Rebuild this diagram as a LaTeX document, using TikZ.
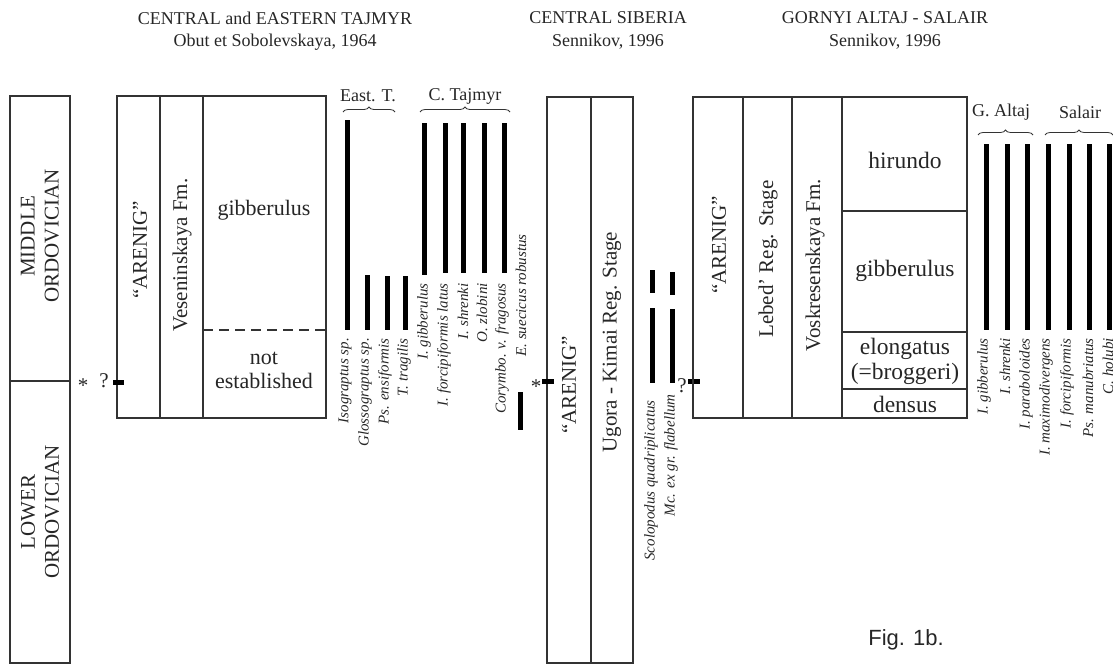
\documentclass[tikz,border=0pt]{standalone}
\usepackage{fontspec}
\setmainfont{Liberation Serif}
\newfontfamily\figfont{Liberation Sans}
\usetikzlibrary{decorations.pathreplacing}
\begin{document}
\begin{tikzpicture}[x=1pt,y=-1pt,
  every node/.style={text=black!85},
  box/.style={draw=black!80,line width=1.3pt},
  dashline/.style={draw=black!80,line width=1.3pt,dash pattern=on 10pt off 6pt},
  bar/.style={draw=black,line width=5pt},
  tickmark/.style={draw=black,line width=5pt},
  vtext/.style={rotate=90,font=\fontsize{21}{24}\selectfont,align=center,inner sep=0pt},
  zone/.style={font=\fontsize{22}{24}\selectfont,align=center,inner sep=0pt},
  bigzone/.style={font=\fontsize{23.5}{25}\selectfont,align=center,inner sep=0pt},
  sp/.style={rotate=90,anchor=east,font=\fontsize{15}{16}\selectfont\itshape,inner sep=0pt},
  title/.style={font=\fontsize{18}{21}\selectfont,inner sep=0pt},
  brlab/.style={font=\fontsize{18}{20}\selectfont,inner sep=0pt},
  symb/.style={font=\fontsize{21}{22}\selectfont,inner sep=0pt},
  br/.style={draw=black!80,decorate,decoration={brace,amplitude=5pt},line width=0.8pt}]
\useasboundingbox (0,0) rectangle (1113,665);

% titles
\node[title] (t1) at (275,18) {CENTRAL and EASTERN TAJMYR};
\node[title] (t1b) at (275,42) {Obut et Sobolevskaya, 1964};
\node[title] (t2) at (608,18) {CENTRAL SIBERIA};
\node[title] (t2b) at (608,42) {Sennikov, 1996};
\node[title] (t3) at (885,18) {GORNYI ALTAJ - SALAIR};
\node[title] (t3b) at (885,42) {Sennikov, 1996};

% left column
\draw[box] (10,96) rectangle (70,663);
\draw[box] (10,381) -- (70,381);
\node[vtext] (mo) at (40,236) {MIDDLE\\ORDOVICIAN};
\node[vtext] (lo) at (40,512) {LOWER\\ORDOVICIAN};

% Tajmyr
\draw[box] (117,96) rectangle (326,418);
\draw[box] (160,96) -- (160,418);
\draw[box] (203,96) -- (203,418);
\draw[dashline] (203,330) -- (326,330);
\node[vtext] (ta) at (140,250) {“ARENIG”};
\node[vtext] (tv) at (182,255) {Veseninskaya Fm.};
\node[zone] (tg) at (264,210) {gibberulus};
\node[zone] (tn) at (264,370) {not\\established};
\node[symb] (ts) at (83,386) {*};
\node[symb] (tq) at (104,381) {?};
\draw[tickmark] (113,382) -- (124,382);

% Tajmyr braces
\draw[br] (343,112) -- (395,112);
\node[brlab] (et) at (368,96) {East. T.};
\draw[br] (420,112) -- (510,112);
\node[brlab] (ct) at (465,96) {C. Tajmyr};

% Tajmyr ranges
\draw[bar] (347,120) -- (347,330);
\draw[bar] (367,275) -- (367,330);
\draw[bar] (387,276) -- (387,330);
\draw[bar] (405,276) -- (405,330);
\draw[bar] (424,123) -- (424,275);
\draw[bar] (445,123) -- (445,273);
\draw[bar] (463,123) -- (463,273);
\draw[bar] (484,123) -- (484,273);
\draw[bar] (504,123) -- (504,273);
\draw[bar] (520,392) -- (520,430);
\node[sp] (s1) at (345,338) {Isograptus sp.};
\node[sp] (s2) at (365,338) {Glossograptus sp.};
\node[sp] (s3) at (385,338) {Ps. ensiformis};
\node[sp] (s4) at (404,338) {T. tragilis};
\node[sp] (s5) at (424,283) {I. gibberulus};
\node[sp] (s6) at (444,283) {I. forcipiformis latus};
\node[sp] (s7) at (463,283) {I. shrenki};
\node[sp] (s8) at (482,283) {O. zlobini};
\node[sp] (s9) at (502,283) {Corymbo. v. fragosus};
\node[sp] (s10) at (521,234) {E. suecicus robustus};

% Central Siberia
\draw[box] (547,97) rectangle (633,663);
\draw[box] (591,97) -- (591,663);
\node[vtext] (ca) at (569,385) {“ARENIG”};
\node[vtext] (cu) at (612,342) {Ugora - Kimai Reg. Stage};
\node[symb] (cs) at (536,387) {*};
\draw[tickmark] (542,381) -- (554,381);
\draw[bar] (652,270) -- (652,293);
\draw[bar] (652,308) -- (652,383);
\draw[bar] (672,272) -- (672,295);
\draw[bar] (672,309) -- (672,383);
\node[sp] (c1) at (651,400) {Scolopodus quadriplicatus};
\node[sp] (c2) at (671,394) {Mc. ex gr. flabellum};
\node[symb] (cq) at (682,386) {?};
\draw[tickmark] (688,381) -- (700,381);

% Gornyi Altaj - Salair
\draw[box] (693,97) rectangle (967,418);
\draw[box] (743,97) -- (743,418);
\draw[box] (792,97) -- (792,418);
\draw[box] (842,97) -- (842,418);
\draw[box] (842,211) -- (967,211);
\draw[box] (842,332) -- (967,332);
\draw[box] (842,389) -- (967,389);
\node[vtext] (ga) at (719,245) {“ARENIG”};
\node[vtext] (gl) at (768,259) {Lebed’ Reg. Stage};
\node[vtext] (gv) at (815,265) {Voskresenskaya Fm.};
\node[bigzone] (gh) at (905,160) {hirundo};
\node[bigzone] (gg) at (905,271) {gibberulus};
\node[bigzone] (ge) at (905,361) {elongatus\\(=broggeri)};
\node[bigzone] (gd) at (905,404) {densus};

\draw[br] (978,135) -- (1033,135);
\node[brlab] (alt) at (1001,112) {G. Altaj};
\draw[br] (1045,135) -- (1113,135);
\node[brlab] (sal) at (1080,112) {Salair};

\draw[bar] (986,144) -- (986,330);
\draw[bar] (1007,144) -- (1007,330);
\draw[bar] (1027,144) -- (1027,330);
\draw[bar] (1048,144) -- (1048,330);
\draw[bar] (1069,144) -- (1069,330);
\draw[bar] (1089,144) -- (1089,330);
\draw[bar] (1109,144) -- (1109,330);
\node[sp] (a1) at (984,338) {I. gibberulus};
\node[sp] (a2) at (1005,338) {I. shrenki};
\node[sp] (a3) at (1026,338) {I. paraboloides};
\node[sp] (a4) at (1046,338) {I. maximodivergens};
\node[sp] (a5) at (1067,338) {I. forcipiformis};
\node[sp] (a6) at (1088,338) {Ps. manubriatus};
\node[sp] (a7) at (1108,338) {C. holubi};

\node[font=\figfont\fontsize{22}{24}\selectfont,inner sep=0pt] (fig) at (906,640) {Fig. 1b.};
\end{tikzpicture}
\end{document}
